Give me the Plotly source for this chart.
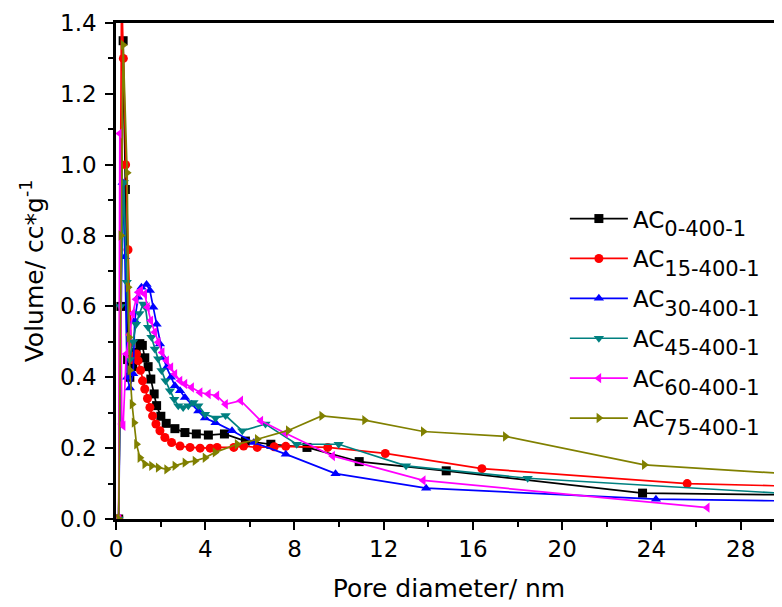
import plotly.graph_objects as go

# ---- data ----
names = ["0-400-1", "15-400-1", "30-400-1", "45-400-1", "60-400-1", "75-400-1"]
colors = ["#000000", "#FF0000", "#0000FF", "#008080", "#FF00FF", "#808000"]
symbols = ["square", "circle", "triangle-up", "triangle-down", "triangle-left", "triangle-right"]

x_ac0 = [0.12, 0.22, 0.32, 0.42, 0.52, 0.62, 0.75, 0.9, 1.07, 1.18, 1.29, 1.44, 1.56, 1.71, 1.82, 2.01,
         2.25, 2.64, 3.09, 3.6, 4.14, 4.86, 5.8, 6.94, 8.56, 10.9, 14.8, 23.6, 30]
y_ac0 = [0.0, 0.6, 1.35, 0.93, 0.45, 0.40, 0.43, 0.47, 0.495, 0.49, 0.455, 0.43, 0.395, 0.353, 0.32, 0.29,
         0.27, 0.255, 0.244, 0.24, 0.237, 0.24, 0.22, 0.211, 0.202, 0.162, 0.136, 0.073, 0.068]

x_ac15 = [0.12, 0.25, 0.33, 0.43, 0.54, 0.7, 0.82, 0.92, 0.99, 1.1, 1.19, 1.29, 1.41, 1.52, 1.64, 1.79,
          1.97, 2.19, 2.49, 2.87, 3.32, 3.77, 4.22, 4.53, 5.28, 5.72, 6.33, 7.09, 7.61, 9.49, 12.07, 16.4,
          25.6, 30]
y_ac15 = [0.0, 1.5, 1.30, 1.0, 0.76, 0.45, 0.46, 0.466, 0.447, 0.42, 0.39, 0.367, 0.34, 0.315, 0.291, 0.268,
          0.249, 0.23, 0.216, 0.206, 0.202, 0.2, 0.2, 0.202, 0.202, 0.206, 0.202, 0.204, 0.205, 0.202, 0.185,
          0.142, 0.10, 0.093]

x_ac30 = [0.12, 0.3, 0.4, 0.5, 0.62, 0.77, 0.84, 0.99, 1.14, 1.37, 1.52, 1.67, 1.82, 1.97, 2.12, 2.27,
          2.46, 2.64, 2.87, 3.09, 3.39, 3.69, 3.99, 4.46, 5.2, 6.18, 7.61, 9.84, 13.9, 24.2, 30]
y_ac30 = [0.0, 0.95, 0.74, 0.40, 0.37, 0.41, 0.56, 0.626, 0.654, 0.662, 0.645, 0.598, 0.55, 0.494, 0.456,
          0.428, 0.40, 0.376, 0.362, 0.343, 0.324, 0.305, 0.285, 0.272, 0.249, 0.216, 0.183, 0.128, 0.087,
          0.056, 0.051]

x_ac45 = [0.12, 0.2, 0.35, 0.48, 0.62, 0.77, 0.9, 1.05, 1.22, 1.32, 1.44, 1.59, 1.74, 1.89, 2.04, 2.22,
          2.42, 2.61, 2.79, 3.01, 3.24, 3.47, 3.69, 3.99, 4.46, 4.91, 5.66, 6.7, 8.1, 9.98, 13.0, 18.45, 30]
y_ac45 = [0.0, 0.6, 0.95, 0.668, 0.45, 0.50, 0.55, 0.58, 0.607, 0.598, 0.541, 0.513, 0.48, 0.452, 0.419,
          0.39, 0.362, 0.338, 0.32, 0.315, 0.32, 0.329, 0.32, 0.296, 0.285, 0.292, 0.249, 0.268, 0.211,
          0.211, 0.15, 0.115, 0.072]

x_ac60 = [0.12, 0.17, 0.26, 0.32, 0.46, 0.6, 0.75, 0.9, 1.0, 1.11, 1.29, 1.41, 1.56, 1.74, 1.89, 2.07,
          2.27, 2.46, 2.64, 2.87, 3.09, 3.39, 3.77, 4.14, 4.52, 4.91, 5.59, 6.49, 7.6, 9.71, 13.77, 26.5]
y_ac60 = [0.0, 1.088, 0.268, 0.263, 0.466, 0.52, 0.58, 0.62, 0.64, 0.645, 0.635, 0.598, 0.56, 0.527, 0.499,
          0.47, 0.447, 0.428, 0.409, 0.39, 0.381, 0.371, 0.357, 0.353, 0.348, 0.324, 0.334, 0.277, 0.242,
          0.178, 0.109, 0.032]

x_ac75 = [0.12, 0.22, 0.32, 0.5, 0.54, 0.58, 0.62, 0.72, 0.81, 0.92, 1.07, 1.29, 1.59, 1.89, 2.27, 2.64,
          3.09, 3.54, 3.99, 4.44, 5.43, 6.33, 7.72, 9.22, 11.14, 13.77, 17.45, 23.68, 30]
y_ac75 = [0.0, 0.8, 1.338, 0.977, 0.654, 0.513, 0.42, 0.324, 0.272, 0.211, 0.173, 0.155, 0.15, 0.145,
          0.14, 0.15, 0.159, 0.164, 0.173, 0.188, 0.211, 0.225, 0.25, 0.291, 0.279, 0.247, 0.233, 0.153,
          0.128]

xs = [x_ac0, x_ac15, x_ac30, x_ac45, x_ac60, x_ac75]
ys = [y_ac0, y_ac15, y_ac30, y_ac45, y_ac60, y_ac75]

x_ticks = [0, 4, 8, 12, 16, 20, 24, 28]
y_ticks = [0.0, 0.2, 0.4, 0.6, 0.8, 1.0, 1.2, 1.4]

FONT = "DejaVu Sans"

fig = go.Figure()
for i in range(len(names)):
    fig.add_trace(go.Scatter(
        x=xs[i], y=ys[i], mode="lines+markers",
        name='AC<sub><sub><span style="font-size:21px">' + names[i] + '</span></sub></sub>',
        legendgroup="g%d" % i,
        line=dict(color=colors[i], width=1.7),
        marker=dict(symbol=symbols[i], size=9, color=colors[i], line=dict(width=0)),
        cliponaxis=True,
    ))

axis_common = dict(
    showgrid=False, zeroline=False,
    showline=True, linecolor="black", linewidth=2.5,
    ticks="outside", ticklen=8, tickwidth=2, tickcolor="black",
    tickfont=dict(family=FONT, size=23, color="black"),
)

fig.update_xaxes(
    **axis_common,
    range=[0, 29.85], tickvals=x_ticks, mirror=True,
    minor=dict(dtick=2, tick0=0, ticks="outside", ticklen=5, tickwidth=2, tickcolor="black"),
    title=dict(text="Pore diameter/ nm", font=dict(family=FONT, size=25, color="black"), standoff=19),
)
fig.update_yaxes(
    **axis_common,
    range=[0, 1.4], tickvals=y_ticks, tickformat=".1f", ticklabelstandoff=4,
    minor=dict(dtick=0.1, tick0=0, ticks="outside", ticklen=5, tickwidth=2, tickcolor="black"),
    title=dict(text="Volume/ cc*g<sup>-1</sup>", font=dict(family=FONT, size=25, color="black"), standoff=10),
)

# the page body adds an 8px offset, so the figure is sized to fill the rest of the window
fig.update_layout(
    width=774, height=599,
    margin=dict(l=108, r=0, t=15, b=88, autoexpand=False),
    paper_bgcolor="white", plot_bgcolor="white",
    font=dict(family=FONT, color="black"),
    showlegend=True,
    legend=dict(
        x=0.674, xanchor="left", y=0.649, yanchor="top",
        font=dict(family=FONT, size=23, color="black"),
        bgcolor="rgba(0,0,0,0)", borderwidth=0,
        itemwidth=58, tracegroupgap=7,
    ),
)

fig.write_html("out.html")
